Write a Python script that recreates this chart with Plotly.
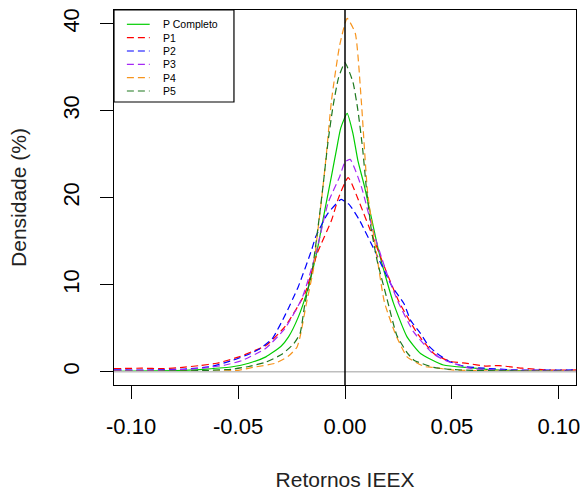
import plotly.graph_objects as go

# ---- data ----
names = ["P Completo", "P1", "P2", "P3", "P4", "P5"]
colors = ["#00CD00", "#FF0000", "#0000FF", "#A528F5", "#F7941D", "#1E781E"]
dashes = ["solid", "7px,4px", "7px,4px", "7px,4px", "7px,4px", "7px,4px"]

x_pc = [-0.108, -0.09, -0.075, -0.065, -0.0526, -0.045, -0.037, -0.030, -0.0264, -0.0218, -0.018,
        -0.0133, -0.0091, -0.0063, -0.004, -0.002, 0.001, 0.0037, 0.006, 0.0091, 0.0125, 0.016,
        0.0225, 0.029, 0.0353, 0.046, 0.0585, 0.07, 0.09, 0.108]
y_pc = [0.05, 0.1, 0.15, 0.3, 0.57, 0.97, 1.7, 2.9, 4.0, 6.3, 9.0,
        13.6, 19.0, 22.5, 25.5, 28.0, 29.7, 27.4, 24.3, 21.3, 17.5, 13.6,
        8.0, 4.0, 2.1, 0.77, 0.45, 0.2, 0.1, 0.05]

x_p1 = [-0.108, -0.095, -0.085, -0.076, -0.068, -0.060, -0.0495, -0.0435, -0.037, -0.028, -0.0187,
        -0.013, -0.0063, -0.003, 0.0015, 0.0068, 0.013, 0.019, 0.0253, 0.0338, 0.0415, 0.049,
        0.057, 0.066, 0.072, 0.083, 0.095, 0.108]
y_p1 = [0.35, 0.4, 0.35, 0.5, 0.7, 0.97, 1.7, 2.3, 3.0, 5.2, 9.0,
        13.6, 17.4, 20.0, 22.3, 19.4, 15.5, 11.7, 8.0, 4.4, 2.1, 1.2,
        0.95, 0.65, 0.7, 0.4, 0.2, 0.2]

x_p2 = [-0.108, -0.09, -0.075, -0.063, -0.0526, -0.045, -0.040, -0.034, -0.028, -0.0218, -0.0156,
        -0.0137, -0.008, -0.0025, -0.0017, 0.002, 0.0068, 0.0145, 0.022, 0.0276, 0.0307, 0.0353,
        0.039, 0.043, 0.049, 0.056, 0.065, 0.08, 0.108]
y_p2 = [0.2, 0.2, 0.3, 0.57, 1.3, 2.0, 2.6, 3.8, 6.5, 9.8, 14.0,
        15.5, 18.2, 19.7, 19.8, 19.2, 17.4, 13.6, 9.8, 7.8, 5.9, 4.4,
        3.0, 2.1, 1.15, 0.6, 0.4, 0.2, 0.2]

x_p3 = [-0.108, -0.09, -0.075, -0.065, -0.056, -0.048, -0.037, -0.028, -0.020, -0.0136, -0.0079,
        -0.0025, 0.0, 0.0024, 0.0076, 0.013, 0.019, 0.0245, 0.032, 0.041, 0.0477, 0.0585,
        0.07, 0.09, 0.108]
y_p3 = [0.15, 0.15, 0.25, 0.45, 0.77, 1.3, 2.7, 5.0, 8.5, 13.6, 19.4,
        22.4, 24.1, 24.4, 21.3, 16.3, 11.7, 8.2, 4.6, 2.1, 1.2, 0.4,
        0.2, 0.15, 0.1]

x_p4 = [-0.108, -0.08, -0.06, -0.05, -0.043, -0.0326, -0.0264, -0.0225, -0.021, -0.018, -0.0148,
        -0.0133, -0.011, -0.0087, -0.0063, -0.0025, 0.001, 0.0048, 0.0076, 0.0106, 0.0145, 0.0184,
        0.0238, 0.029, 0.0315, 0.037, 0.041, 0.05, 0.07, 0.108]
y_p4 = [0.05, 0.05, 0.08, 0.15, 0.5, 0.97, 1.8, 2.8, 4.0, 7.9, 11.7,
        15.0, 19.7, 25.0, 31.2, 37.5, 40.6, 38.9, 31.2, 20.5, 14.0, 8.0,
        4.2, 1.7, 1.3, 0.6, 0.5, 0.2, 0.08, 0.05]

x_p5 = [-0.108, -0.08, -0.065, -0.053, -0.045, -0.037, -0.0295, -0.024, -0.021, -0.0187, -0.0153,
        -0.012, -0.0102, -0.0079, -0.0056, -0.003, 0.0, 0.0037, 0.006, 0.0083, 0.0099, 0.0122,
        0.015, 0.0195, 0.0242, 0.029, 0.0324, 0.0415, 0.05, 0.06, 0.08, 0.108]
y_p5 = [0.05, 0.06, 0.15, 0.28, 0.6, 1.1, 2.0, 3.2, 4.4, 7.9, 11.7,
        17.8, 21.5, 26.5, 30.5, 33.8, 35.5, 33.3, 30.1, 25.5, 21.3, 16.5,
        12.8, 8.5, 4.2, 2.2, 1.3, 0.5, 0.25, 0.15, 0.08, 0.05]

xs = [x_pc, x_p1, x_p2, x_p3, x_p4, x_p5]
ys = [y_pc, y_p1, y_p2, y_p3, y_p4, y_p5]

x_tickvals = [-0.10, -0.05, 0.00, 0.05, 0.10]
x_ticktext = ["-0.10", "-0.05", "0.00", "0.05", "0.10"]
y_tickvals = [0, 10, 20, 30, 40]

fig = go.Figure()
for n, c, d, x, y in zip(names, colors, dashes, xs, ys):
    fig.add_trace(go.Scatter(x=x, y=y, mode="lines", name=n,
                             line=dict(color=c, width=1.2, dash=d, shape="spline", smoothing=0.5),
                             showlegend=False))

# reference lines (abline)
fig.add_shape(type="line", xref="paper", yref="y", x0=0, x1=1, y0=0, y1=0,
              line=dict(color="#BEBEBE", width=1.5), layer="above")
fig.add_shape(type="line", xref="x", yref="paper", x0=0, x1=0, y0=0, y1=1,
              line=dict(color="black", width=1.5), layer="above")

# manual legend (R style)
W, H = 466.0, 375.0
def px2x(p):
    return (p - 114) / W
def px2y(p):
    return (385 - p) / H
fig.add_shape(type="rect", xref="paper", yref="paper",
              x0=px2x(114), x1=px2x(235), y0=px2y(102), y1=px2y(10),
              line=dict(color="black", width=1.2), fillcolor="white", layer="above")
row_y = [24.3, 37.7, 51, 64.3, 77.7, 91]
for n, c, d, ry in zip(names, colors, dashes, row_y):
    fig.add_shape(type="line", xref="paper", yref="paper",
                  x0=px2x(127), x1=px2x(150), y0=px2y(ry), y1=px2y(ry),
                  line=dict(color=c, width=1.2, dash=d), layer="above")
    fig.add_annotation(xref="paper", yref="paper", x=px2x(161), y=px2y(ry),
                       text=n, showarrow=False, xanchor="left", yanchor="middle",
                       font=dict(family="Liberation Sans, Arial", size=10.5, color="black"))

fig.update_layout(
    width=585, height=501,
    margin=dict(l=114, r=5, t=10, b=116),
    paper_bgcolor="white", plot_bgcolor="white",
    font=dict(family="Liberation Sans, Arial", color="black"),
    xaxis=dict(range=[-0.108, 0.108], showgrid=False, zeroline=False,
               showline=True, mirror=True, linecolor="black", linewidth=1.3,
               ticks="outside", ticklen=13, tickwidth=1.3, tickcolor="black",
               tickvals=x_tickvals, ticktext=x_ticktext,
               tickfont=dict(size=22, color="black"), ticklabelstandoff=8,
               title=dict(text="Retornos IEEX", font=dict(size=21, color="#222222"), standoff=34)),
    yaxis=dict(range=[-1.53, 41.57], showgrid=False, zeroline=False,
               showline=True, mirror=True, linecolor="black", linewidth=1.3,
               ticks="outside", ticklen=13, tickwidth=1.3, tickcolor="black",
               tickvals=y_tickvals, tickangle=-90,
               tickfont=dict(size=22, color="black"), ticklabelstandoff=12,
               title=dict(text="Densidade (%)", font=dict(size=21, color="#222222"), standoff=26)),
)

fig.write_html("out.html")
